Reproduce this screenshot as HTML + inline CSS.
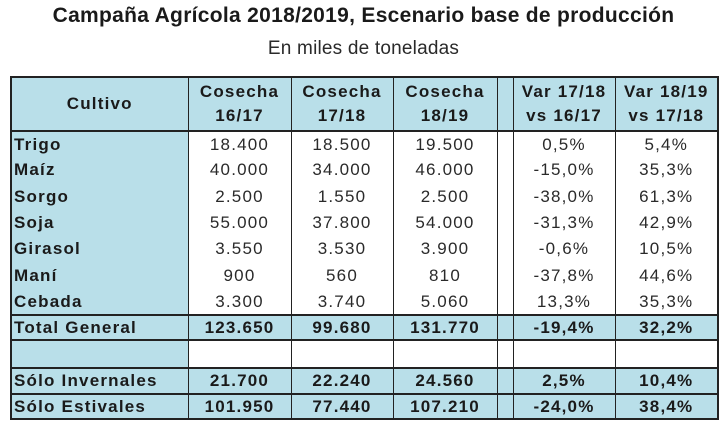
<!DOCTYPE html>
<html><head><meta charset="utf-8"><style>
body{margin:0;width:727px;height:428px;background:#fff;font-family:"Liberation Sans",sans-serif;color:#222;position:relative;overflow:hidden}
.t1{position:absolute;top:4px;left:0;width:727px;text-align:center;font-weight:bold;font-size:21px;letter-spacing:0.3px;color:#1a1a1a}
.t2{position:absolute;top:38px;left:0;width:727px;text-align:center;font-size:19px;letter-spacing:0.2px;color:#2a2a2a}
table{position:absolute;left:10px;top:76px;width:707px;border-collapse:collapse;table-layout:fixed;border:2px solid #222;font-size:17px;letter-spacing:1.2px;white-space:nowrap}
td{border-left:1.5px solid #222;border-right:1.5px solid #222;padding:0;text-align:center;background:#fff;color:#2a2a2a;overflow:hidden}
td.c{text-align:left;padding-left:2px;font-weight:bold;background:#b9dfe9;color:#1a1a1a}
tr.h td{background:#b9dfe9;font-weight:bold;color:#1a1a1a;border-bottom:2px solid #222;line-height:24px}
tr.b td{background:#b9dfe9;font-weight:bold;color:#1a1a1a;border-top:2px solid #222;border-bottom:2px solid #222}
tr.e td{border-top:2px solid #222;border-bottom:2px solid #222}
tr.e td.c{background:#b9dfe9}
</style></head><body>
<div class="t1">Campaña Agrícola 2018/2019, Escenario base de producción</div>
<div class="t2">En miles de toneladas</div>
<table>
<colgroup><col style="width:177px"><col style="width:103px"><col style="width:102px"><col style="width:104px"><col style="width:16px"><col style="width:102px"><col style="width:103px"></colgroup>
<tr class="h" style="height:54px"><td style="text-align:center">Cultivo</td><td>Cosecha<br>16/17</td><td>Cosecha<br>17/18</td><td>Cosecha<br>18/19</td><td></td><td>Var 17/18<br>vs 16/17</td><td>Var 18/19<br>vs 17/18</td></tr>
<tr style="height:26px"><td class="c">Trigo</td><td>18.400</td><td>18.500</td><td>19.500</td><td></td><td>0,5%</td><td>5,4%</td></tr>
<tr style="height:26px"><td class="c">Maíz</td><td>40.000</td><td>34.000</td><td>46.000</td><td></td><td>-15,0%</td><td>35,3%</td></tr>
<tr style="height:27px"><td class="c">Sorgo</td><td>2.500</td><td>1.550</td><td>2.500</td><td></td><td>-38,0%</td><td>61,3%</td></tr>
<tr style="height:26px"><td class="c">Soja</td><td>55.000</td><td>37.800</td><td>54.000</td><td></td><td>-31,3%</td><td>42,9%</td></tr>
<tr style="height:26px"><td class="c">Girasol</td><td>3.550</td><td>3.530</td><td>3.900</td><td></td><td>-0,6%</td><td>10,5%</td></tr>
<tr style="height:27px"><td class="c">Maní</td><td>900</td><td>560</td><td>810</td><td></td><td>-37,8%</td><td>44,6%</td></tr>
<tr style="height:26px"><td class="c">Cebada</td><td>3.300</td><td>3.740</td><td>5.060</td><td></td><td>13,3%</td><td>35,3%</td></tr>
<tr class="b" style="height:25px"><td class="c">Total General</td><td>123.650</td><td>99.680</td><td>131.770</td><td></td><td>-19,4%</td><td>32,2%</td></tr>
<tr class="e" style="height:28px"><td class="c"></td><td></td><td></td><td></td><td></td><td></td><td></td></tr>
<tr class="b" style="height:26px"><td class="c">Sólo Invernales</td><td>21.700</td><td>22.240</td><td>24.560</td><td></td><td>2,5%</td><td>10,4%</td></tr>
<tr class="b" style="height:25px"><td class="c">Sólo Estivales</td><td>101.950</td><td>77.440</td><td>107.210</td><td></td><td>-24,0%</td><td>38,4%</td></tr>
</table>
</body></html>
